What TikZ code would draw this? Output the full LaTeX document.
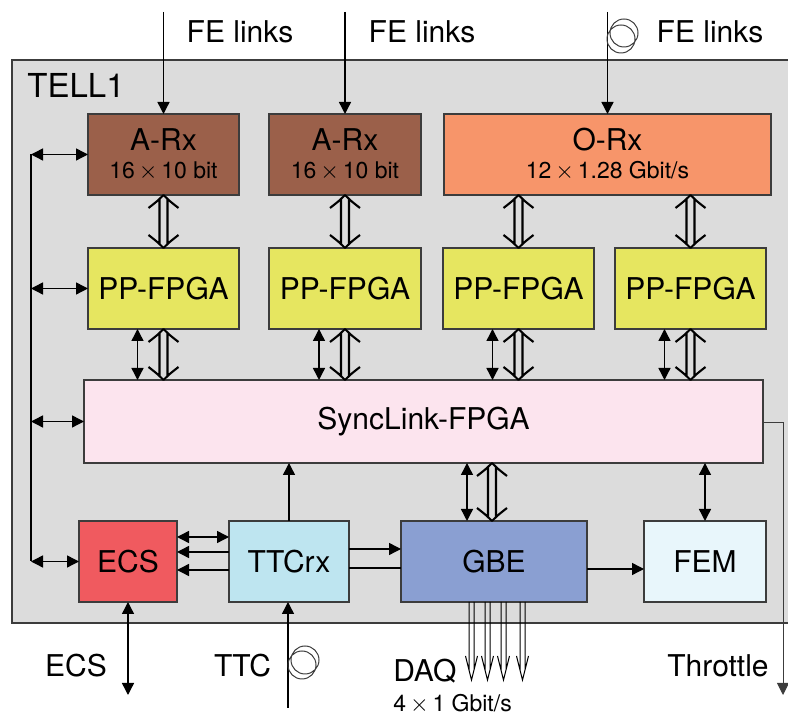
\documentclass[tikz,border=0pt]{standalone}
\usepackage{fontspec}
\setmainfont{TeX Gyre Heros}
\usetikzlibrary{arrows.meta, positioning, calc}
\definecolor{board}{RGB}{220,220,220}
\definecolor{edge}{RGB}{60,60,60}
\definecolor{arxbrown}{RGB}{155,96,74}
\definecolor{orxsalmon}{RGB}{247,149,106}
\definecolor{ppyellow}{RGB}{230,230,96}
\definecolor{syncpink}{RGB}{252,228,238}
\definecolor{ecsred}{RGB}{240,90,95}
\definecolor{ttcblue}{RGB}{190,229,240}
\definecolor{gbeblue}{RGB}{138,159,210}
\definecolor{femblue}{RGB}{232,246,251}
\newcommand{\ratefont}{\fontsize{11.5}{14}\selectfont}

\begin{document}
\begin{tikzpicture}[
  x=0.5pt, y=-0.5pt,
  box/.style={rectangle, draw=edge, line width=0.6pt, inner sep=0pt, outer sep=0pt,
              minimum height=40.5pt, align=center, font=\fontsize{15}{14}\selectfont},
  lbl/.style={inner sep=0pt, font=\fontsize{15}{15}\selectfont},
  >={Triangle[length=6pt,width=6pt]},
  arr/.style={line width=0.7pt},
  % hollow bus arrow, drawn from top to bottom
  wide/.style={line width=1.05pt, line join=round, to path={
    let \p1=(\tikztostart), \p2=(\tikztotarget) in
    (\x1-7.5pt,\y1-6.5pt) .. controls (\x1-3pt,\y1-3pt) .. (\x1,\y1)
                        .. controls (\x1+3pt,\y1-3pt) .. (\x1+7.5pt,\y1-6.5pt)
    (\x1-2pt,\y1-1.8pt) -- (\x2-2pt,\y2+1.8pt)
    (\x1+2pt,\y1-1.8pt) -- (\x2+2pt,\y2+1.8pt)
    (\x2-7.5pt,\y2+6.5pt) .. controls (\x2-3pt,\y2+3pt) .. (\x2,\y2)
                        .. controls (\x2+3pt,\y2+3pt) .. (\x2+7.5pt,\y2+6.5pt)}},
  daq/.style={line width=0.5pt, to path={
    let \p1=(\tikztostart), \p2=(\tikztotarget) in
    (\x1-1.25pt,\y1) -- (\x2-1.25pt,\y2+5pt)
    (\x1+1.25pt,\y1) -- (\x2+1.25pt,\y2+5pt)
    (\x2-3pt,\y2+12pt) -- (\x2,\y2) -- (\x2+3pt,\y2+12pt)}},
  fibre/.style={draw=edge, line width=0.5pt},
  node distance=26.5pt and 15pt
]
  \useasboundingbox (0,0) rectangle (788,715);
  \draw[fill=board, draw=edge, line width=0.7pt] (12,60) rectangle (790,623);
  \node[lbl, font=\fontsize{16.5}{16.5}\selectfont, anchor=west] (tell) at (27,85) {TELL1};

  % receivers
  \node[box, fill=arxbrown, minimum width=75.5pt] (rxa) at (163.5,154.5) {A-Rx\\{\ratefont 16\,$\times$\,10 bit}};
  \node[box, fill=arxbrown, minimum width=76pt, right=15pt of rxa] (rxb) {A-Rx\\{\ratefont 16\,$\times$\,10 bit}};
  \node[box, fill=orxsalmon, minimum width=163.5pt, right=11.5pt of rxb] (rxo) {O-Rx\\{\ratefont 12\,$\times$\,1.28 Gbit/s}};

  \node[box, fill=ppyellow, minimum width=75.5pt, below=of rxa] (ppa) {PP-FPGA};
  \node[box, fill=ppyellow, minimum width=76pt, below=of rxb] (ppb) {PP-FPGA};
  \node[box, fill=ppyellow, minimum width=75.5pt, right=11pt of ppb] (ppc) {PP-FPGA};
  \node[box, fill=ppyellow, minimum width=75.5pt, right=10.5pt of ppc] (ppd) {PP-FPGA};

  \node[box, fill=syncpink, minimum width=339.5pt, minimum height=41.5pt] (sync) at (423.5,421.5) {SyncLink-FPGA};

  \node[box, fill=ecsred, minimum width=49pt] (ecs) at (128,561.5) {ECS};
  \node[box, fill=ttcblue, minimum width=60pt, right=26pt of ecs] (ttc) {TTCrx};
  \node[box, fill=gbeblue, minimum width=93pt, right=26pt of ttc] (gbe) {GBE};
  \node[box, fill=femblue, minimum width=61pt, right=28.5pt of gbe] (fem) {FEM};

  % FE links
  \coordinate (fetop) at (0,12);
  \foreach \rx in {rxa,rxb,rxo}
    \draw[arr,->] (\rx.north |- fetop) -- (\rx.north);
  \node[lbl] (fea) at (240,32) {FE links};
  \node[lbl] (feb) at (422,32) {FE links};
  \node[lbl] (feo) at (710,32) {FE links};
  \draw[fibre] (621,39) circle[radius=7pt] (624,33) circle[radius=7pt];

  \foreach \pp in {ppa,ppb,ppc,ppd} {
    \draw[wide] (\pp |- rxa.south) to (\pp.north);
    \draw[wide] (\pp.south) to (\pp.south |- sync.north);
    \draw[arr,<->] ([xshift=-13pt]\pp.south) -- ([xshift=-13pt]\pp.south |- sync.north);
  }

  % ECS bus
  \coordinate (bus) at (31,0);
  \draw[arr] (rxa.west -| bus) -- (ecs.west -| bus);
  \foreach \n in {rxa,ppa,sync,ecs}
    \draw[arr,<->] (\n.west -| bus) -- (\n.west);

  \draw[arr,<->] ([xshift=-13.5pt]gbe.north) -- ([xshift=-13.5pt]gbe.north |- sync.south);
  \draw[wide] ([xshift=-1pt]gbe.north |- sync.south) to ([xshift=-1pt]gbe.north);
  \draw[arr,->] (ttc.north) -- (ttc.north |- sync.south);
  \draw[arr,<->] (fem.north) -- (fem.north |- sync.south);

  \draw[arr,<->] ([yshift=12.25pt]ecs.east) -- ([yshift=12.25pt]ecs.east -| ttc.west);
  \draw[arr,->] ([yshift=4.75pt]ttc.west) -- ([yshift=4.75pt]ttc.west -| ecs.east);
  \draw[arr,->] ([yshift=-4.25pt]ttc.west) -- ([yshift=-4.25pt]ttc.west -| ecs.east);
  \draw[arr,->] ([yshift=6.25pt]ttc.east) -- ([yshift=6.25pt]ttc.east -| gbe.west);
  \draw[arr] ([yshift=-3.25pt]ttc.east) -- ([yshift=-3.25pt]ttc.east -| gbe.west);
  \draw[arr,->] ([yshift=-3.75pt]gbe.east) -- ([yshift=-3.75pt]gbe.east -| fem.west);

  % outside connections
  \coordinate (thr) at (783,695);
  \draw[arr,->, line width=0.5pt, draw=edge] ([yshift=-0.75pt]sync.east) -| (thr);
  \node[lbl] (thrlbl) at (718,666) {Throttle};

  \coordinate (ecsout) at (0,695);
  \draw[arr,<->] (ecs.south) -- (ecs.south |- ecsout);
  \node[lbl] (ecslbl) at (76,666) {ECS};

  \coordinate (ttcin) at (288,708);
  \draw[arr,->] (ttcin) -- (ttcin |- ttc.south);
  \node[lbl] (ttclbl) at (242.5,666) {TTC};
  \draw[fibre] (302,665) circle[radius=7pt] (305,660) circle[radius=7pt];

  \coordinate (daqend) at (0,680);
  \foreach \dx in {-11.25,-3.25,4.75,14.25}
    \draw[daq] ([xshift=\dx pt]gbe.south) to ([xshift=\dx pt]gbe.south |- daqend);
  \node[lbl, anchor=west] (daqlbl) at (393,671) {DAQ};
  \node[lbl, font=\ratefont, anchor=west] (daqrate) at (393,704) {4\,$\times$\,1 Gbit/s};
\end{tikzpicture}
\end{document}
